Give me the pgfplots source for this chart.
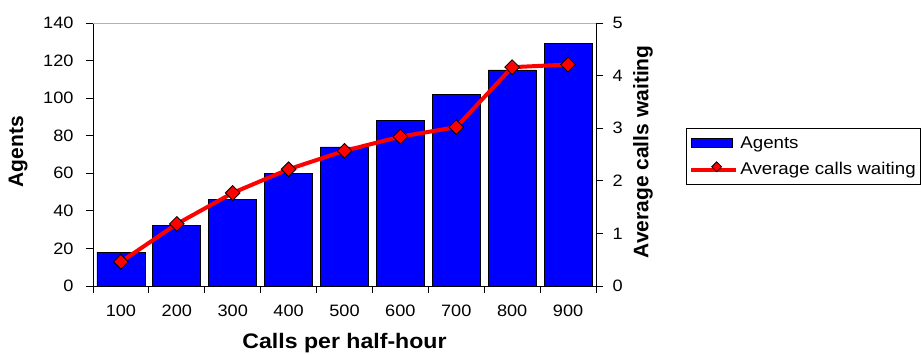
\documentclass[border=0pt]{standalone}
\usepackage{fontspec}
\setmainfont{Liberation Sans}
\newfontfamily\widesans{Liberation Sans}[FakeStretch=1.1]
\usepackage{pgfplots}
\usepackage{pgfplotstable}
\pgfplotsset{compat=1.18}

\definecolor{barblue}{RGB}{0,0,255}
\definecolor{linered}{RGB}{255,0,0}

% calls per half-hour (category index), agents, average calls waiting
\pgfplotstableread{
cat agents waiting
0 18  0.46
1 32  1.18
2 46  1.77
3 60  2.22
4 74  2.57
5 88  2.84
6 102 3.02
7 115 4.16
8 129 4.21
}\datatable

\pgfplotsset{
  common/.style={
    scale only axis, width=503pt, height=263pt,
    at={(0,0)}, anchor=south west,
    xmin=-0.5, xmax=8.5, ymin=0,
    tick align=outside,
    major tick length=7pt, minor tick length=7pt,
    ticklabel style={font=\widesans\fontsize{16.5}{20}\selectfont},
    /pgf/number format/assume math mode=true,
    axis line style={black, line width=0.8pt},
    tick style={black, line width=0.8pt},
    label style={font=\bfseries\fontsize{21}{24}\selectfont},
  }
}

\begin{document}
\begin{tikzpicture}[x=1pt,y=1pt]
\path[use as bounding box] (-93,-68) rectangle (828,286);

\begin{axis}[common,
  axis y line*=left, axis x line*=bottom,
  ymax=140, ytick={0,20,...,140},
  xtick={0,...,8},
  xticklabels={100,200,300,400,500,600,700,800,900},
  major x tick style={draw=none},
  minor xtick={-0.5,0.5,...,8.5},
  xticklabel style={yshift=-8pt},
  yticklabel style={xshift=-9pt},
  xlabel={Calls per half-hour},
  ylabel={Agents},
  xlabel style={at={(axis description cs:0.5,-0.2395)}, anchor=base,
                font=\widesans\bfseries\fontsize{21}{24}\selectfont},
  ylabel style={at={(axis description cs:-0.149,0.51)}, anchor=center},
]
\draw[gray!60, line width=0.8pt] (rel axis cs:0,1) -- (rel axis cs:1,1);
\addplot[ybar, bar width=48pt, fill=barblue, draw=black, line width=0.8pt]
  table[x=cat, y=agents] {\datatable};
\end{axis}

\begin{axis}[common,
  axis y line*=right, axis x line=none,
  ymax=5, ytick={0,...,5},
  yticklabel style={xshift=6pt},
  ylabel={Average calls waiting},
  ylabel style={at={(axis description cs:1.0934,0.51)}, anchor=center},
  legend style={
    at={(axis description cs:1.1789,0.6008)}, anchor=north west,
    draw=black, line width=0.8pt, fill=white,
    font=\widesans\fontsize{17}{20}\selectfont,
    cells={anchor=west},
    row sep=9pt, inner ysep=6pt,
  },
]
\addlegendimage{legend image code/.code={
    \draw[fill=barblue, draw=black, line width=0.8pt] (0pt,-4.5pt) rectangle (41pt,4.5pt);}}
\addlegendentry{Agents}
\addplot[linered, line width=4pt,
  mark=square*, mark size=5.2pt,
  mark options={solid, rotate=45, fill=linered, draw=black, line width=0.8pt},
  legend image code/.code={
    \draw[linered, line width=4pt] (0pt,0pt) -- (45pt,0pt);
    \node[draw=black, fill=linered, line width=0.8pt, rotate=45,
          minimum size=7pt, inner sep=0pt] at (22.5pt,0pt) {};}]
  table[x=cat, y=waiting] {\datatable};
\addlegendentry{Average calls waiting}
\end{axis}
\end{tikzpicture}
\end{document}
